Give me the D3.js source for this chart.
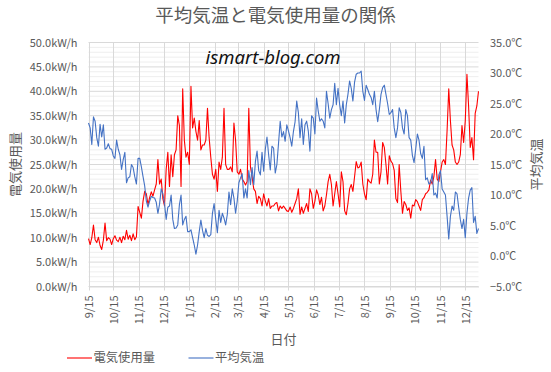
<!DOCTYPE html>
<html>
<head>
<meta charset="utf-8">
<title>平均気温と電気使用量の関係</title>
<style>
  body { margin: 0; background: #fff; }
  text { font-family: "Noto Sans CJK JP", "Noto Sans", sans-serif; fill: #595959; }
</style>
</head>
<body>
<svg id="chart" width="551" height="372"></svg>
<script src="https://cdn.jsdelivr.net/npm/d3@7"></script>
<script>
// one reading every 2 days, starting 2018-09-15
const startDate = "2018-09-15"
const stepDays = 2

// 電気使用量 (kW/h)
const power = [
  9.8, 8.6, 10.0, 12.6, 9.6, 9.0, 10.1, 8.4, 7.6, 9.5, 13.0, 9.4, 10.0, 9.7, 8.6, 9.8, 10.4, 9.5, 9.2, 10.1,
  9.0, 10.3, 9.6, 11.5, 9.7, 10.5, 9.4, 10.8, 9.6, 10.2,
  16.4, 15.2, 14.0, 17.5, 19.5, 19.0, 16.8, 18.2, 19.4, 18.5, 19.8, 21.0, 26.0, 21.0, 22.0, 18.0, 16.5, 24.0, 27.5, 20.5,
  27.0, 22.5, 27.0,
  28.0, 35.0, 33.0, 20.5, 40.5, 30.0, 26.5, 27.5, 25.0, 41.0, 32.5, 34.5, 31.8, 30.0, 34.0, 28.0, 29.0, 29.0, 30.0, 36.5,
  30.5, 26.5, 23.0, 22.0, 24.0, 19.5, 25.5, 24.0, 26.5, 36.5, 25.0, 24.0, 24.0, 24.5, 23.5, 33.5, 30.0, 23.5, 23.0, 24.0,
  22.0, 21.5, 20.8, 21.5, 36.5, 24.5, 22.5, 20.0, 19.5, 17.0, 18.5, 18.0, 16.5, 19.0, 17.5, 16.5,
  18.0, 16.0, 16.5, 16.5, 17.0, 17.2, 15.5, 16.5, 16.0, 16.5, 16.0, 15.5, 15.4, 16.3, 15.2, 16.0, 17.0, 18.0, 20.0, 14.8,
  16.3, 15.0, 16.0, 17.0, 15.4, 20.0, 19.0, 16.0, 17.5, 19.8, 18.8, 16.8, 18.3, 15.5, 16.5, 18.8, 21.5, 23.0, 20.9, 16.5,
  19.0, 21.5, 19.0, 16.3, 23.5, 21.5, 15.5, 14.7, 17.0, 20.0, 20.9, 19.5, 22.5, 25.6, 24.3,
  24.5, 25.5, 21.0, 19.0, 17.8, 22.0, 21.5, 21.2, 23.0, 30.0, 27.5, 27.5, 21.0, 23.5, 29.5, 28.5, 25.0, 21.0, 26.8, 25.7,
  25.2, 23.8, 18.0, 17.2, 25.0, 19.5, 15.0, 17.4, 16.8, 15.6, 16.1, 14.0, 16.7, 16.5, 17.8, 17.4, 16.5, 15.6, 17.8, 18.2,
  19.0, 19.3, 19.8, 21.8, 21.0, 22.5, 26.0, 22.0, 21.5, 23.5, 25.5, 26.0, 25.0, 32.0, 40.5, 34.0, 29.0, 28.0, 25.5, 25.0,
  25.5, 27.0, 33.0, 29.5, 34.0, 43.5, 37.0, 28.5, 30.5, 26.0, 35.5, 37.0, 40.0
]

// 平均気温 (℃)
const temp = [
  21.8, 21.0, 18.3, 22.8, 22.1, 19.4, 18.0, 21.6, 19.5, 21.5, 17.5, 17.7, 18.4, 17.6, 17.5, 16.4, 16.0, 19.0, 17.5, 16.6,
  14.2, 15.8, 17.0, 12.0, 12.8, 13.0, 15.0, 14.5, 13.0, 11.8, 16.0, 16.0, 14.6, 13.0, 11.5, 9.0, 8.0, 9.0, 9.8, 9.6,
  9.5, 8.8, 7.0, 8.5, 11.0, 10.2, 8.6, 6.0, 8.0, 8.2, 10.0, 6.0, 4.5,
  4.6, 5.1, 8.4, 10.0, 5.1, 6.0, 6.5, 4.0, 4.0, 4.3, 3.0, 1.8, 0.3, 1.8, 4.0, 5.9, 4.2, 3.0, 4.5, 3.4,
  3.2, 3.5, 7.0, 8.6, 6.0, 3.8, 7.5, 5.5, 7.0, 6.2, 5.1, 6.8, 10.5, 8.4, 11.0, 9.5, 7.0, 9.0, 12.0, 12.8,
  13.5, 9.5, 11.0, 9.5, 14.0, 11.7, 14.5, 11.7, 15.5, 17.2, 14.0, 13.3, 17.0, 13.9, 17.5, 19.5,
  16.6, 14.1, 18.0, 17.7, 13.6, 15.0, 18.5, 22.1, 19.5, 20.4, 18.8, 21.5, 20.5, 19.4, 18.0, 20.4, 22.0, 25.4, 23.5, 19.4,
  22.5, 18.3, 21.5, 22.1, 20.5, 17.2, 23.0, 22.6, 20.0, 25.9, 23.8, 22.1, 22.5, 22.1, 21.0, 27.0, 25.0, 22.6, 24.0, 24.8,
  28.3, 24.8, 27.5, 24.8, 23.0, 25.4, 21.8, 24.8, 26.5, 28.7, 27.5, 25.4, 28.5, 29.8, 30.0,
  30.0, 30.3, 27.0, 25.5, 28.0, 27.3, 26.5, 26.0, 24.8, 27.0, 24.0, 22.0, 24.0, 26.5, 27.6, 28.0, 26.5, 25.0, 23.2, 23.5,
  24.0, 21.0, 19.4, 21.0, 24.3, 23.5, 21.0, 20.0, 24.0, 23.0, 19.4, 19.0, 16.5, 15.3, 17.5, 20.0, 19.0, 16.8, 16.0, 18.0,
  12.5, 12.8, 11.8, 12.0, 13.5, 10.0, 10.3, 9.5, 13.3, 14.0, 11.0, 10.5, 10.0, 6.5, 2.8, 6.5, 8.2, 7.5, 10.5, 10.2,
  8.0, 6.0, 4.5, 6.0, 3.0, 7.0, 9.5, 10.8, 11.2, 5.5, 6.5, 3.7, 4.5
]

const tickDates = ["2018-09-15", "2018-10-15", "2018-11-15", "2018-12-15", "2019-01-15", "2019-02-15",
  "2019-03-15", "2019-04-15", "2019-05-15", "2019-06-15", "2019-07-15", "2019-08-15",
  "2019-09-15", "2019-10-15", "2019-11-15", "2019-12-15"]
const powerTicks = [0, 5, 10, 15, 20, 25, 30, 35, 40, 45, 50]
const tempTicks = [-5, 0, 5, 10, 15, 20, 25, 30, 35]

let parse = d3.timeParse("%Y-%m-%d")
let t0 = parse(startDate)
let dates = power.map((d, i) => d3.timeDay.offset(t0, i * stepDays))
let ticks = tickDates.map(parse)

let svg = d3.select("#chart")

let plotLeft = 88.5, plotRight = 478.5, plotTop = 42.5, plotBottom = 286.5

let x = d3.scaleTime().domain([t0, dates[dates.length - 1]]).range([plotLeft, plotRight])
let yL = d3.scaleLinear().domain([0, 50]).range([plotBottom, plotTop])
let yR = d3.scaleLinear().domain([-5, 35]).range([plotBottom, plotTop])

// minor gridlines every 1.0
let minor = d3.range(0, 50, 1).filter(v => v % 5 != 0)
svg.append("g").selectAll("line").data(minor).join("line")
  .attr("x1", plotLeft).attr("x2", plotRight)
  .attr("y1", d => yL(d)).attr("y2", d => yL(d))
  .attr("stroke", "#eeeeee").attr("stroke-width", 1)

// major horizontal gridlines
svg.append("g").selectAll("line").data(powerTicks).join("line")
  .attr("x1", plotLeft).attr("x2", plotRight)
  .attr("y1", d => yL(d)).attr("y2", d => yL(d))
  .attr("stroke", "#d9d9d9").attr("stroke-width", 1)

// vertical gridlines at each month
svg.append("g").selectAll("line").data(ticks).join("line")
  .attr("x1", d => Math.round(x(d)) + 0.5).attr("x2", d => Math.round(x(d)) + 0.5)
  .attr("y1", plotTop).attr("y2", plotBottom + 4)
  .attr("stroke", "#d9d9d9").attr("stroke-width", 1)

// left axis labels
let yAxisL = d3.axisLeft(yL).tickValues(powerTicks)
  .tickFormat(d => d3.format(".1f")(d) + "kW/h").tickSize(0).tickPadding(11)
let gL = svg.append("g").attr("transform", "translate(" + plotLeft + ",0)").call(yAxisL)
gL.select(".domain").remove()
gL.selectAll("text").attr("font-size", "11px").attr("fill", "#595959")
  .attr("font-family", "'Noto Sans CJK JP', sans-serif")

// right axis labels
let yAxisR = d3.axisRight(yR).tickValues(tempTicks)
  .tickFormat(d => d3.format(".1f")(d) + "℃").tickSize(0).tickPadding(11.5)
let gR = svg.append("g").attr("transform", "translate(" + plotRight + ",0)").call(yAxisR)
gR.select(".domain").remove()
gR.selectAll("text").attr("font-size", "11px").attr("fill", "#595959")
  .attr("font-family", "'Noto Sans CJK JP', sans-serif")

// bottom axis, rotated labels
let xAxis = d3.axisBottom(x).tickValues(ticks).tickFormat(d3.timeFormat("%-m/%-d")).tickSize(0)
let gX = svg.append("g").attr("transform", "translate(0," + plotBottom + ")").call(xAxis)
gX.select(".domain").attr("stroke", "#d9d9d9")
gX.selectAll("text")
  .attr("x", -9).attr("y", 0).attr("dy", "0.35em")
  .attr("transform", "rotate(-90)")
  .style("text-anchor", "end")
  .attr("font-size", "11px").attr("fill", "#595959")
  .attr("font-family", "'Noto Sans CJK JP', sans-serif")

// series
let linePower = d3.line().x((d, i) => x(dates[i])).y(d => yL(d))
let lineTemp = d3.line().x((d, i) => x(dates[i])).y(d => yR(d))

svg.append("path").datum(power)
  .attr("d", linePower).attr("fill", "none")
  .attr("stroke", "#ff0000").attr("stroke-width", 1.1).attr("stroke-linejoin", "round")

svg.append("path").datum(temp)
  .attr("d", lineTemp).attr("fill", "none")
  .attr("stroke", "#4472c4").attr("stroke-width", 1.1).attr("stroke-linejoin", "round")

// titles
svg.append("text").text("平均気温と電気使用量の関係")
  .attr("x", 275.5).attr("y", 22).attr("text-anchor", "middle").attr("font-size", "18.5px")

svg.append("text").text("ismart-blog.com")
  .attr("x", 273).attr("y", 64).attr("text-anchor", "middle")
  .attr("font-size", "18.5px").attr("font-style", "italic")
  .style("font-family", "'Noto Sans', sans-serif").style("fill", "#111")

svg.append("text").text("電気使用量")
  .attr("text-anchor", "middle").attr("font-size", "13px").attr("dy", "0.35em")
  .attr("transform", "translate(15,164.5) rotate(-90)")

svg.append("text").text("平均気温")
  .attr("text-anchor", "middle").attr("font-size", "13px").attr("dy", "0.35em")
  .attr("transform", "translate(536.5,164.5) rotate(-90)")

svg.append("text").text("日付")
  .attr("x", (plotLeft + plotRight) / 2).attr("y", 339).attr("dy", "0.35em")
  .attr("text-anchor", "middle").attr("font-size", "13px")

// legend
let legend = [
  { name: "電気使用量", color: "#ff0000", x: 67 },
  { name: "平均気温", color: "#4472c4", x: 188.5 }
]
let lg = svg.append("g").selectAll("g").data(legend).join("g")
  .attr("transform", d => "translate(" + d.x + ",358)")
lg.append("line").attr("x1", 0).attr("x2", 25).attr("y1", 0).attr("y2", 0)
  .attr("stroke", d => d.color).attr("stroke-width", 1.1)
lg.append("text").text(d => d.name).attr("x", 26.5).attr("dy", "0.35em").attr("font-size", "12.3px")
</script>
</body>
</html>
